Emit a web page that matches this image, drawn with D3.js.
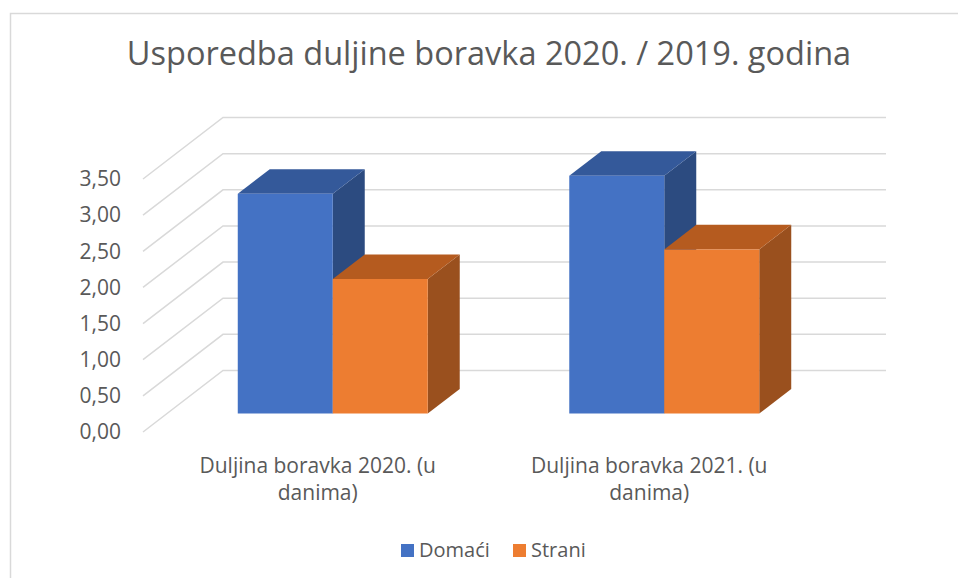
<!DOCTYPE html>
<html>
<head>
<meta charset="utf-8">
<script src="https://cdn.jsdelivr.net/npm/d3@7"></script>
<style>
    body { margin: 0; background: #fff; }
    text { font-family: "Open Sans", "Noto Sans", sans-serif; fill: #595959; }
</style>
</head>
<body>
<div id="chart"></div>
<script>
const categories = ["Duljina boravka 2020. (u danima)", "Duljina boravka 2021. (u danima)"];
const seriesNames = ["Domaći", "Strani"];
const domaci = [3.04, 3.29];
const strani = [1.86, 2.27];
const ticks = [0, 0.5, 1, 1.5, 2, 2.5, 3, 3.5];

const width = 958,
    height = 578,
    depthX = 80,
    depthY = -61.5,
    barFront = 0.3,
    barBack = 0.7;

const colors = {
    "Domaći": { front: "#4472C4", top: "#34599A", side: "#2C4B80" },
    "Strani": { front: "#ED7D31", top: "#B55B1F", side: "#9A501E" }
};

const data = categories.map((c, i) => ({ category: c, values: [
    { name: seriesNames[0], value: domaci[i] },
    { name: seriesNames[1], value: strani[i] }
]}));

const svg = d3.select("#chart")
    .append("svg")
    .attr("width", width)
    .attr("height", height);

// chart border
svg.append("rect")
    .attr("x", 10.5)
    .attr("y", 13.5)
    .attr("width", width + 20)
    .attr("height", height + 20)
    .attr("fill", "none")
    .attr("stroke", "#D9D9D9")
    .attr("stroke-width", 1.5);

svg.append("text")
    .attr("x", 489)
    .attr("y", 65)
    .attr("text-anchor", "middle")
    .style("font-size", "32.5px")
    .text("Usporedba duljine boravka 2020. / 2019. godina");

const y = d3.scaleLinear()
    .domain([0, 3.5])
    .range([432, 179]);

const x0 = d3.scaleBand()
    .domain(categories)
    .range([143, 806]);

const x1 = d3.scaleBand()
    .domain(seriesNames)
    .range([0, x0.bandwidth()])
    .paddingInner(0)
    .paddingOuter(0.745);

// project front-plane point (px, value) to depth z
function proj(px, v, z) {
    return [px + z * depthX, y(v) + z * depthY];
}

// gridlines: diagonal on the side, horizontal on back wall
const grid = svg.append("g");
grid.selectAll("path")
    .data(ticks)
    .enter()
    .append("path")
    .attr("d", d => {
        const a = proj(143, d, 0), b = proj(143, d, 1), c = proj(806, d, 1);
        return "M" + a + "L" + b + "L" + c;
    })
    .attr("fill", "none")
    .attr("stroke", "#D9D9D9")
    .attr("stroke-width", 1.5);

svg.append("g")
    .selectAll("text")
    .data(ticks)
    .enter()
    .append("text")
    .attr("x", 121)
    .attr("y", d => y(d))
    .attr("dy", "0.35em")
    .attr("text-anchor", "end")
    .style("font-size", "21px")
    .text(d => d3.format(".2f")(d).replace(".", ","));

// bars
const groups = svg.append("g")
    .selectAll("g")
    .data(data)
    .enter()
    .append("g");

groups.each(function (g) {
    const sel = d3.select(this);
    g.values.forEach(d => {
        const xl = x0(g.category) + x1(d.name),
            xr = xl + x1.bandwidth(),
            col = colors[d.name];
        const fbl = proj(xl, 0, barFront), fbr = proj(xr, 0, barFront),
            ftl = proj(xl, d.value, barFront), ftr = proj(xr, d.value, barFront),
            btl = proj(xl, d.value, barBack), btr = proj(xr, d.value, barBack),
            bbr = proj(xr, 0, barBack);
        sel.append("path")
            .attr("d", "M" + fbr + "L" + bbr + "L" + btr + "L" + ftr + "Z")
            .attr("fill", col.side);
        sel.append("path")
            .attr("d", "M" + ftl + "L" + ftr + "L" + btr + "L" + btl + "Z")
            .attr("fill", col.top);
        sel.append("path")
            .attr("d", "M" + fbl + "L" + fbr + "L" + ftr + "L" + ftl + "Z")
            .attr("fill", col.front);
    });
});

// category labels, wrapped to two lines
const catLabels = svg.append("g")
    .selectAll("text")
    .data(categories)
    .enter()
    .append("text")
    .attr("text-anchor", "middle")
    .style("font-size", "21px");

catLabels.each(function (c) {
    const cx = x0(c) + x0.bandwidth() / 2 + 9;
    const words = c.split(" ");
    const lines = [words.slice(0, 4).join(" "), words.slice(4).join(" ")];
    d3.select(this).selectAll("tspan")
        .data(lines)
        .enter()
        .append("tspan")
        .attr("x", cx)
        .attr("y", (d, i) => 473 + i * 27)
        .text(d => d);
});

// legend
const legendX = [401, 513];
const legend = svg.append("g")
    .selectAll("g")
    .data(seriesNames)
    .enter()
    .append("g")
    .attr("transform", (d, i) => "translate(" + legendX[i] + ",0)");

legend.append("rect")
    .attr("x", 0)
    .attr("y", 544)
    .attr("width", 13)
    .attr("height", 13)
    .attr("fill", d => colors[d].front);

legend.append("text")
    .attr("x", 18)
    .attr("y", 557)
    .style("font-size", "20px")
    .text(d => d);
</script>
</body>
</html>
